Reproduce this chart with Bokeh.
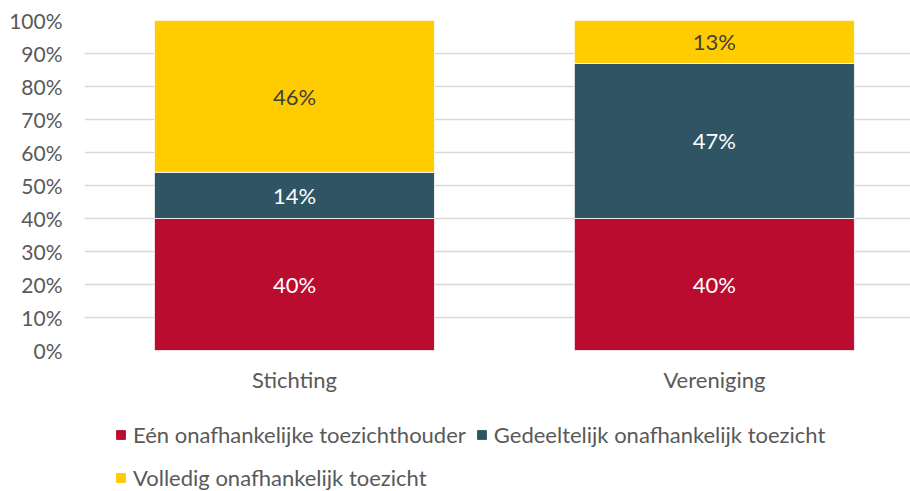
from bokeh.plotting import figure
from bokeh.models import ColumnDataSource, Range1d, FixedTicker, PrintfTickFormatter, Legend, LegendItem
from bokeh.layouts import column
from bokeh.core.properties import value
from bokeh.embed import file_html
from bokeh.resources import INLINE

categories = ["Stichting", "Vereniging"]
series = ["Eén onafhankelijke toezichthouder",
          "Gedeeltelijk onafhankelijk toezicht",
          "Volledig onafhankelijk toezicht"]
een = [40, 40]
gedeeltelijk = [14, 47]
volledig = [46, 13]
colors = ["#BA0C2F", "#2F5564", "#FFCC00"]
label_colors = ["#FFFFFF", "#FFFFFF", "#404040"]
y_ticks = list(range(0, 101, 10))

FONT = "Lato"
FS = "22px"
GREY = "#595959"

xs = list(range(len(categories)))
values = [een, gedeeltelijk, volledig]
keys = ["s0", "s1", "s2"]
data = {"x": xs}
for k, v in zip(keys, values):
    data[k] = v
source = ColumnDataSource(data)

p = figure(width=910, height=405, output_backend="svg", toolbar_location=None,
           x_range=Range1d(-0.5, 1.467), y_range=Range1d(0, 100),
           min_border_left=84, min_border_right=0, min_border_top=20, min_border_bottom=55)
p.outline_line_color = None
p.background_fill_color = "white"
p.border_fill_color = "white"

renderers = p.vbar_stack(keys, x="x", width=0.667, color=colors, source=source,
                         line_color="white", line_width=0.8)

# data labels
for i, (v, tc) in enumerate(zip(values, label_colors)):
    bottoms = [sum(values[j][c] for j in range(i)) for c in range(len(categories))]
    mids = [b + val / 2 for b, val in zip(bottoms, v)]
    lsrc = ColumnDataSource({"x": xs, "y": mids, "t": [f"{val}%" for val in v]})
    p.text(x="x", y="y", text="t", source=lsrc, text_align="center", text_baseline="middle",
           text_font=value(FONT), text_font_size=FS, text_color=tc)

# axes
p.yaxis.ticker = FixedTicker(ticks=y_ticks)
p.yaxis.formatter = PrintfTickFormatter(format="%d%%")
p.xaxis.ticker = FixedTicker(ticks=xs)
p.xaxis.major_label_overrides = {x: c for x, c in zip(xs, categories)}
for ax in (p.xaxis[0], p.yaxis[0]):
    ax.axis_line_color = None
    ax.major_tick_line_color = None
    ax.minor_tick_line_color = None
    ax.major_label_text_font = FONT
    ax.major_label_text_font_size = FS
    ax.major_label_text_color = GREY
p.yaxis.major_label_text_font_size = "21px"
p.yaxis.major_label_standoff = 16
p.xaxis.major_label_standoff = 9

p.xgrid.grid_line_color = None
p.ygrid.ticker = FixedTicker(ticks=y_ticks)
p.ygrid.grid_line_color = "#D9D9D9"
p.ygrid.grid_line_width = 1.5

# legend strip below the chart (its bars lie outside its visible y range)
pl = figure(width=910, height=86, output_backend="svg", toolbar_location=None,
            x_range=Range1d(-0.5, 1.467), y_range=Range1d(1000, 1001),
            x_axis_type=None, y_axis_type=None,
            min_border_left=84, min_border_right=0, min_border_top=0, min_border_bottom=0)
pl.outline_line_color = None
pl.grid.grid_line_color = None
pl.background_fill_color = "white"
lr = pl.vbar_stack(keys, x="x", width=0.667, color=colors, source=source)

def make_legend(items, loc):
    return Legend(items=items, orientation="horizontal", location=loc,
                  glyph_width=11, glyph_height=11, label_standoff=7, spacing=10,
                  padding=0, margin=0, border_line_color=None, background_fill_alpha=0,
                  label_text_font=FONT, label_text_font_size=FS, label_text_color=GREY,
                  label_height=26)

leg1 = make_legend([LegendItem(label=series[0], renderers=[lr[0]]),
                    LegendItem(label=series[1], renderers=[lr[1]])], (31, 43))
leg2 = make_legend([LegendItem(label=series[2], renderers=[lr[2]])], (31, 0))
pl.add_layout(leg1, "center")
pl.add_layout(leg2, "center")

layout = column(p, pl, spacing=0)
open("out.html", "w").write(file_html(layout, INLINE))
